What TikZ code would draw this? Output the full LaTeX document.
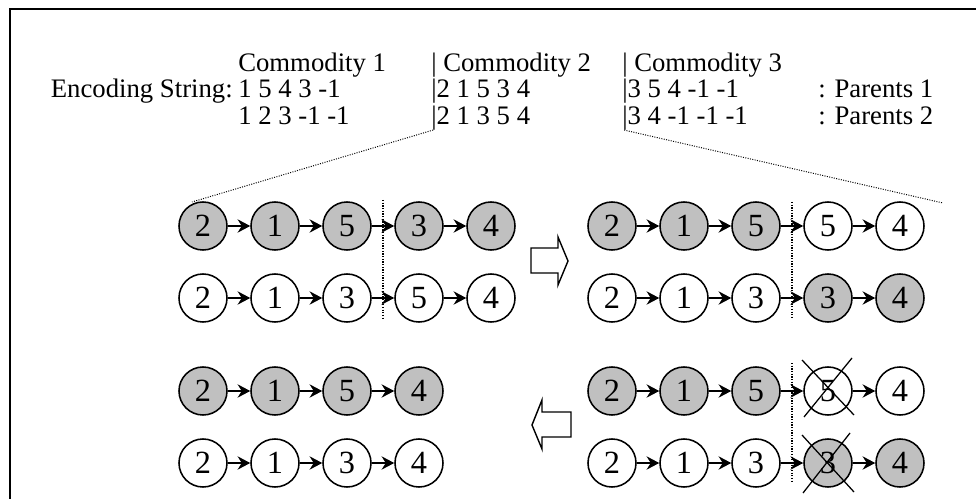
\documentclass[tikz,border=0pt]{standalone}
\usepackage{fontspec}
\setmainfont{Liberation Serif}
\usetikzlibrary{arrows.meta}
\definecolor{cellgray}{RGB}{192,192,192}
\tikzset{
  ball/.style={circle, draw, line width=1.1pt, minimum size=1.2cm, inner sep=0pt, font=\fontsize{23}{23}\selectfont},
  dark/.style={fill=cellgray},
  lite/.style={fill=white},
  txt/.style={anchor=base west, inner sep=0pt},
  cut/.style={densely dotted, line width=0.9pt},
  link/.style={->, line width=0.9pt},
  fat/.style={line width=1pt, line join=miter},
}
\begin{document}
\begin{tikzpicture}[x=0.025cm, y=-0.025cm, line join=round, >={Stealth[length=9pt,width=9.5pt,inset=3pt]}, font=\fontsize{19}{19}\selectfont]
    \useasboundingbox (0,0) rectangle (976,499);
    \draw[line width=2pt, line join=miter] (10,499) -- (10,9) -- (976,9);
    % header and the two parent strings
    \node[txt] (h1) at (238,72) {Commodity 1};
    \node[txt] (h2) at (431,72) {| Commodity 2};
    \node[txt] (h3) at (622,72) {| Commodity 3};
    \node[anchor=base east, inner sep=0pt] (lab) at (233,98) {Encoding String:};
    \node[txt] (p1a) at (238,98) {1 5 4 3 -1};
    \node[txt] (p1b) at (431,98) {|2 1 5 3 4};
    \node[txt] (p1c) at (622,98) {|3 5 4 -1 -1};
    \node[txt] (p1d) at (818,98) {: Parents 1};
    \node[txt] (p2a) at (238,124) {1 2 3 -1 -1};
    \node[txt] (p2b) at (431,124) {|2 1 3 5 4};
    \node[txt] (p2c) at (622,124) {|3 4 -1 -1 -1};
    \node[txt] (p2d) at (818,124) {: Parents 2};
    \coordinate (k2) at ([xshift=1.5pt]p2b.south west);
    \coordinate (k3) at ([xshift=1.5pt]p2c.south west);
    \coordinate (z2) at (192,202);
    \coordinate (z3) at (943,203);
    \draw[cut, line width=0.7pt] (k2) -- (z2) (k3) -- (z3);
    % routes of commodity 2
    \foreach \n/\xo/\yo/\lst in {
        a/203/226/{2/dark,1/dark,5/dark,3/dark,4/dark},
        b/203/298/{2/lite,1/lite,3/lite,5/lite,4/lite},
        c/612/226/{2/dark,1/dark,5/dark,5/lite,4/lite},
        d/612/298/{2/lite,1/lite,3/lite,3/dark,4/dark},
        e/203/391/{2/dark,1/dark,5/dark,4/dark},
        f/203/463/{2/lite,1/lite,3/lite,4/lite},
        g/612/391/{2/dark,1/dark,5/dark,5/lite,4/lite},
        h/612/463/{2/lite,1/lite,3/lite,3/dark,4/dark}}
    {
        \foreach \v/\f [count=\i] in \lst
            \node[ball,\f] (\n\i) at ({\xo+72*(\i-1)},\yo) {\v};
    }
    \foreach \n/\k in {a/5,b/5,c/5,d/5,e/4,f/4,g/5,h/5}
        \foreach \i [remember=\i as \j (initially 1)] in {2,...,\k}
            \draw[link] (\n\j) -- (\n\i);
    % crossover points
    \draw[cut] (383,200) -- (383,318);
    \draw[cut] (792,202) -- (792,318) (792,363) -- (792,482);
    % removed duplicates
    \draw[line width=0.9pt] (g4) +(-26,-31) -- +(26,24) (g4) +(24,-33) -- +(-24,26);
    \draw[line width=0.9pt] (h4) +(-26,-28) -- +(26,29) (h4) +(22,-30) -- +(-25,30);
    % block arrows
    \draw[fat] (531,248) -- (558,248) -- (558,237) -- (568,261) -- (558,285) -- (558,273) -- (531,273) -- cycle;
    \draw[fat] (571,412) -- (542,412) -- (542,400) -- (532,425) -- (542,449) -- (542,437) -- (571,437) -- cycle;
\end{tikzpicture}
\end{document}
